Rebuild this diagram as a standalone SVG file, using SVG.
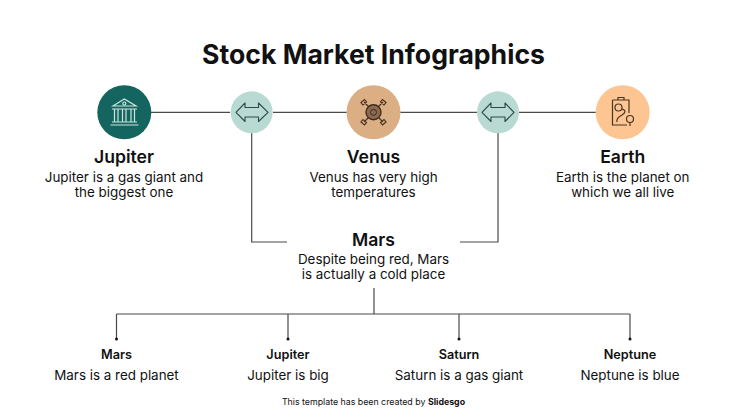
<svg xmlns="http://www.w3.org/2000/svg" width="747" height="420" viewBox="0 0 747 420">
<style>
text{font-family:Inter,"Liberation Sans",sans-serif;text-anchor:middle;fill:#111}
.t{font-size:26.6px;font-weight:700}
.h{font-size:17.6px;font-weight:600}
.b{font-size:13.4px;font-weight:400}
.s{font-size:12.7px;font-weight:600}
.c{fill:none;stroke:#4a4a4a;stroke-width:1.2}
.i{fill:none;stroke:#2c4a48;stroke-width:1.1;stroke-linejoin:round}
.w{fill:none;stroke:#cfe3df;stroke-width:1.2}
.o{fill:none;stroke:#4a3422;stroke-width:1.2}
</style>
<rect width="747" height="420" fill="#fff"/>
<text x="373.500" y="64" class="t">Stock Market Infographics</text>
<g id="connectors">
<path class="c" d="M151 112.300H230M273 112.300H347M400 112.300H477M519 112.300H596"/>
<path class="c" d="M251.700 133V242H287M498 133V242H460"/>
<path class="c" d="M374 288V314M116.500 314H630M116.500 314V339M288 314V339M459 314V339M630 314V339"/>
<g fill="#111"><circle cx="116.500" cy="339" r="1.500"/><circle cx="288" cy="339" r="1.500"/><circle cx="459" cy="339" r="1.500"/><circle cx="630" cy="339" r="1.500"/></g>
</g>
<g id="node-jupiter">
<circle cx="124.300" cy="112.300" r="27" fill="#14655f"/>
<path class="w" d="M113 106L124.300 99L136 106ZM112 109H137M114.500 109V122M118 109V122M122.500 109V122M126 109V122M131 109V122M134.500 109V122M112 122H137M110.500 125H138.500"/>
<circle class="w" cx="124.300" cy="103.500" r="1.500"/>
<text x="124" y="163" class="h">Jupiter</text>
<text x="124" y="182" class="b">Jupiter is a gas giant and</text>
<text x="124" y="197" class="b">the biggest one</text>
</g>
<g id="node-arrow-left">
<circle cx="251.700" cy="112.300" r="21" fill="#b8dad2"/>
<path class="i" d="M236 112.300L245 103V107.500H258.500V103L268 112.300L258.500 121.500V117H245V121.500Z"/>
</g>
<g id="node-venus">
<circle cx="373.500" cy="112.300" r="27" fill="#dcae84"/>
<path class="o" d="M364 102L369 107M383 102L378 107M364 122L369 117M383 122L378 117M361 102.500L364.500 99.500L366.500 102L363 105ZM386 102.500L382.500 99.500L380.500 102L384 105ZM361 122L364.500 125L366.500 122.500L363 119.500ZM386 122L382.500 125L380.500 122.500L384 119.500Z"/>
<circle cx="373.500" cy="112.300" r="7.500" fill="#8a6a50" stroke="#3f2c1c" stroke-width="1.400"/>
<circle cx="373.500" cy="112.300" r="3" fill="none" stroke="#3f2c1c"/>
<text x="373.500" y="163" class="h">Venus</text>
<text x="373.500" y="182" class="b">Venus has very high</text>
<text x="373.500" y="197" class="b">temperatures</text>
</g>
<g id="node-arrow-right">
<circle cx="498" cy="112.300" r="21" fill="#b8dad2"/>
<path class="i" d="M482 112.300L491 103V107.500H505V103L514 112.300L505 121.500V117H491V121.500Z"/>
</g>
<g id="node-earth">
<circle cx="622.700" cy="112.300" r="27" fill="#fdc591"/>
<path class="o" d="M612.500 100H629V113M612.500 100V125H627M618 100V97.500H624V100"/>
<circle class="o" cx="618.500" cy="107.500" r="3.500"/>
<circle class="o" cx="630" cy="119" r="3.500"/>
<path class="o" d="M622 109Q628 111 622 115Q616 118 617 122M630 122.500V126"/>
<text x="622.700" y="163" class="h">Earth</text>
<text x="622.700" y="182" class="b">Earth is the planet on</text>
<text x="622.700" y="197" class="b">which we all live</text>
</g>
<g id="node-mars-main">
<text x="373.500" y="246" class="h">Mars</text>
<text x="373.500" y="264" class="b">Despite being red, Mars</text>
<text x="373.500" y="279" class="b">is actually a cold place</text>
</g>
<g id="node-mars"><text x="116.500" y="359" class="s">Mars</text><text x="116.500" y="380" class="b">Mars is a red planet</text></g>
<g id="node-jupiter-2"><text x="288" y="359" class="s">Jupiter</text><text x="288" y="380" class="b">Jupiter is big</text></g>
<g id="node-saturn"><text x="459" y="359" class="s">Saturn</text><text x="459" y="380" class="b">Saturn is a gas giant</text></g>
<g id="node-neptune"><text x="630" y="359" class="s">Neptune</text><text x="630" y="380" class="b">Neptune is blue</text></g>
<text x="373.500" y="405" style="font-size:8.800px">This template has been created by <tspan font-weight="700">Slidesgo</tspan></text>
</svg>
